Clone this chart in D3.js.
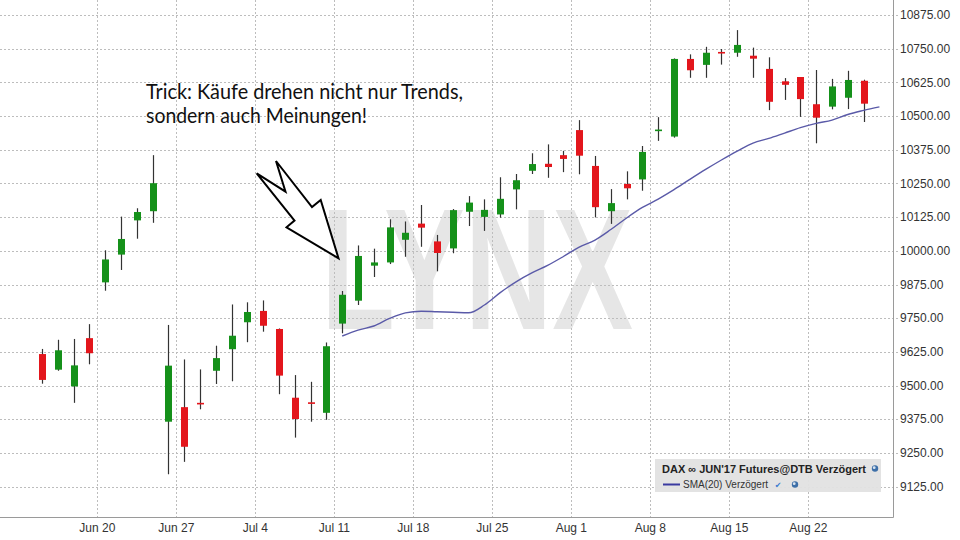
<!DOCTYPE html>
<html><head><meta charset="utf-8">
<script src="https://cdn.jsdelivr.net/npm/d3@7"></script>
<style>html,body{margin:0;padding:0;background:#fff;}svg{display:block;}</style>
</head><body>
<svg id="chart" width="960" height="540"></svg>
<script>
// ---- data ----
const dates = ["2016-06-14","2016-06-15","2016-06-16","2016-06-17",
"2016-06-20","2016-06-21","2016-06-22","2016-06-23","2016-06-24",
"2016-06-27","2016-06-28","2016-06-29","2016-06-30","2016-07-01",
"2016-07-04","2016-07-05","2016-07-06","2016-07-07","2016-07-08",
"2016-07-11","2016-07-12","2016-07-13","2016-07-14","2016-07-15",
"2016-07-18","2016-07-19","2016-07-20","2016-07-21","2016-07-22",
"2016-07-25","2016-07-26","2016-07-27","2016-07-28","2016-07-29",
"2016-08-01","2016-08-02","2016-08-03","2016-08-04","2016-08-05",
"2016-08-08","2016-08-09","2016-08-10","2016-08-11","2016-08-12",
"2016-08-15","2016-08-16","2016-08-17","2016-08-18","2016-08-19",
"2016-08-22","2016-08-23","2016-08-24","2016-08-25"];
const open  = [9617,9559,9497,9676,9883,9986,10113,10147,9366,9420,9436,9555,9635,9735,9777,9710,9455,9438,9399,9730,9815,9945,9957,10041,10101,10035,10009,10145,10126,10135,10228,10297,10323,10355,10448,10315,10147,10248,10265,10445,10424,10712,10690,10738,10735,10724,10675,10629,10645,10544,10535,10568,10631];
const high  = [9636,9670,9673,9728,10002,10127,10158,10355,9725,9597,9560,9648,9801,9809,9816,9712,9539,9514,9660,9851,10020,10008,10117,10109,10170,10059,10155,10203,10191,10273,10285,10362,10395,10371,10485,10352,10229,10295,10389,10496,10714,10729,10757,10749,10819,10754,10718,10641,10645,10671,10638,10668,10635];
const low   = [9507,9555,9436,9579,9852,9929,10045,10104,9171,9217,9412,9506,9516,9661,9700,9468,9307,9366,9373,9694,9799,9903,9951,9978,10015,9924,9991,10092,10074,10123,10154,10285,10271,10292,10284,10124,10100,10191,10223,10408,10420,10642,10642,10691,10720,10642,10522,10560,10497,10399,10525,10526,10478];
const close = [9521,9631,9575,9620,9968,10044,10144,10251,9574,9273,9431,9602,9685,9773,9722,9537,9376,9433,9646,9837,9981,9957,10087,10067,10086,9992,10151,10179,10152,10193,10262,10322,10311,10341,10353,10162,10177,10232,10367,10450,10712,10670,10735,10733,10764,10713,10553,10616,10563,10494,10610,10634,10546];
// SMA(20) as drawn, first value at bar index 19 (extends one bar past last candle)
const smaStart = 19;
const sma = [9684,9706,9721,9749,9770,9776,9774,9772,9770,9799,9845,9885,9918,9946,9979,10014,10040,10079,10122,10161,10192,10227,10265,10302,10337,10370,10400,10417,10437,10457,10473,10485,10506,10521,10534];
const yTicks = [9125,9250,9375,9500,9625,9750,9875,10000,10125,10250,10375,10500,10625,10750,10875];
const xTickDates  = ["2016-06-20","2016-06-27","2016-07-04","2016-07-11","2016-07-18","2016-07-25","2016-08-01","2016-08-08","2016-08-15","2016-08-22"];
const xTickLabels = ["Jun 20","Jun 27","Jul 4","Jul 11","Jul 18","Jul 25","Aug 1","Aug 8","Aug 15","Aug 22"];
const legendTitle = "DAX \u221E JUN'17 Futures@DTB Verzögert";
const legendSeries = "SMA(20) Verzögert";
const noteLines = ["Trick: Käufe drehen nicht nur Trends,", "sondern auch Meinungen!"];
const watermark = "LYNX";

// ---- layout ----
const plot = {left: 0, right: 893, top: 0, bottom: 517};
const svg = d3.select("#chart");

const x = d3.scaleLinear().domain([-2.66, 53.86]).range([plot.left, plot.right]);
const y = d3.scaleLinear().domain([9012.4, 10930.7]).range([plot.bottom, plot.top]);

const GREEN = "#15911a", RED = "#e3161c", GRID = "#bdbdbd";

// watermark
svg.append("text")
  .attr("x", 321).attr("y", 329)
  .attr("textLength", 312).attr("lengthAdjust", "spacingAndGlyphs")
  .attr("font-family", "Liberation Sans, Arial, sans-serif")
  .attr("font-weight", "bold").attr("font-size", 172)
  .attr("fill", "#e6e6e6").text(watermark);

// grid
const grid = svg.append("g");
grid.selectAll("line.h").data(yTicks).join("line")
  .attr("x1", plot.left).attr("x2", plot.right + 5)
  .attr("y1", d => Math.round(y(d)) + 0.5).attr("y2", d => Math.round(y(d)) + 0.5)
  .attr("stroke", GRID).attr("stroke-dasharray", "2,2");
const tickIdx = xTickDates.map(d => dates.indexOf(d));
grid.selectAll("line.v").data(tickIdx).join("line")
  .attr("x1", d => Math.round(x(d - 0.5)) + 0.5).attr("x2", d => Math.round(x(d - 0.5)) + 0.5)
  .attr("y1", plot.top).attr("y2", plot.bottom)
  .attr("stroke", GRID).attr("stroke-dasharray", "2,2");

// frame
svg.append("line").attr("x1", plot.right + 0.5).attr("x2", plot.right + 0.5)
  .attr("y1", 0).attr("y2", plot.bottom + 0.5).attr("stroke", "#9a9a9a");
svg.append("line").attr("x1", 0).attr("x2", plot.right + 0.5)
  .attr("y1", plot.bottom + 0.5).attr("y2", plot.bottom + 0.5).attr("stroke", "#9a9a9a");

// y axis labels
svg.append("g").selectAll("text").data(yTicks).join("text")
  .attr("x", 900).attr("y", d => y(d)).attr("dy", "0.35em")
  .attr("font-family", "Liberation Sans, Arial, sans-serif").attr("font-size", 12)
  .attr("fill", "#333").text(d => d3.format(".2f")(d));

// x axis labels
svg.append("g").selectAll("text").data(tickIdx).join("text")
  .attr("x", d => x(d - 0.5)).attr("y", 528).attr("dy", "0.35em")
  .attr("text-anchor", "middle")
  .attr("font-family", "Liberation Sans, Arial, sans-serif").attr("font-size", 12)
  .attr("fill", "#333").text((d, i) => xTickLabels[i]);

// candles
const bars = dates.map((d, i) => ({i, o: open[i], h: high[i], l: low[i], c: close[i]}));
const cg = svg.append("g");
cg.selectAll("line.wick").data(bars).join("line")
  .attr("x1", d => Math.round(x(d.i)) + 0.5).attr("x2", d => Math.round(x(d.i)) + 0.5)
  .attr("y1", d => y(d.h)).attr("y2", d => y(d.l))
  .attr("stroke", "#333").attr("stroke-width", 1.2);
const bw = 7;
cg.selectAll("rect").data(bars).join("rect")
  .attr("x", d => Math.round(x(d.i)) + 0.5 - bw / 2)
  .attr("width", bw)
  .attr("y", d => Math.min(y(d.o), y(d.c)))
  .attr("height", d => Math.max(1.6, Math.abs(y(d.o) - y(d.c))))
  .attr("fill", d => d.c >= d.o ? GREEN : RED);

// SMA line
const smaPts = sma.map((v, k) => [smaStart + k, v]);
svg.append("path").datum(smaPts)
  .attr("d", d3.line().x(d => x(d[0])).y(d => y(d[1])).curve(d3.curveMonotoneX))
  .attr("fill", "none").attr("stroke", "#5a5aa8").attr("stroke-width", 1.4);

// arrow annotation
const arrow = [[256.7,173.3],[285.5,191.7],[276,161],[312,207],[320.7,200],[338.5,258.3],[286.5,227.3],[294.5,220.5]];
svg.append("path").attr("d", "M" + arrow.map(p => p.join(",")).join("L") + "Z")
  .attr("fill", "#fff").attr("stroke", "#000").attr("stroke-width", 2).attr("stroke-linejoin", "miter");

// note text
const note = svg.append("g").attr("font-family", "Lato, 'Open Sans', sans-serif").attr("font-size", 21).attr("fill", "#111");
note.append("text").attr("x", 146).attr("y", 99.3).attr("textLength", 317).attr("lengthAdjust", "spacingAndGlyphs").text(noteLines[0]);
note.append("text").attr("x", 146).attr("y", 123.3).attr("textLength", 221).attr("lengthAdjust", "spacingAndGlyphs").text(noteLines[1]);

// legend
const lg = svg.append("g");
lg.append("rect").attr("x", 655).attr("y", 459).attr("width", 226).attr("height", 33)
  .attr("fill", "#e2e2e2").attr("opacity", 0.95);
lg.append("text").attr("x", 662).attr("y", 469).attr("dy", "0.35em")
  .attr("font-family", "Liberation Sans, Arial, sans-serif").attr("font-size", 11).attr("font-weight", "bold")
  .attr("fill", "#222").text(legendTitle);
lg.append("line").attr("x1", 663).attr("x2", 680).attr("y1", 484.5).attr("y2", 484.5)
  .attr("stroke", "#3a3aa0").attr("stroke-width", 2);
lg.append("text").attr("x", 683).attr("y", 484.5).attr("dy", "0.35em")
  .attr("font-family", "Liberation Sans, Arial, sans-serif").attr("font-size", 10)
  .attr("fill", "#333").text(legendSeries);
lg.append("text").attr("x", 778).attr("y", 485).attr("dy", "0.35em").attr("text-anchor", "middle")
  .attr("font-family", "DejaVu Sans, sans-serif").attr("font-size", 8).attr("fill", "#3a7ad0").text("\u2714");
[[875,468.5],[795,484.5]].forEach(p => {
  lg.append("circle").attr("cx", p[0]).attr("cy", p[1]).attr("r", 3.2).attr("fill", "#3d6fa8");
  lg.append("circle").attr("cx", p[0] - 0.8).attr("cy", p[1] - 0.8).attr("r", 1.4).attr("fill", "#d8e4f0");
});
</script>
</body></html>
